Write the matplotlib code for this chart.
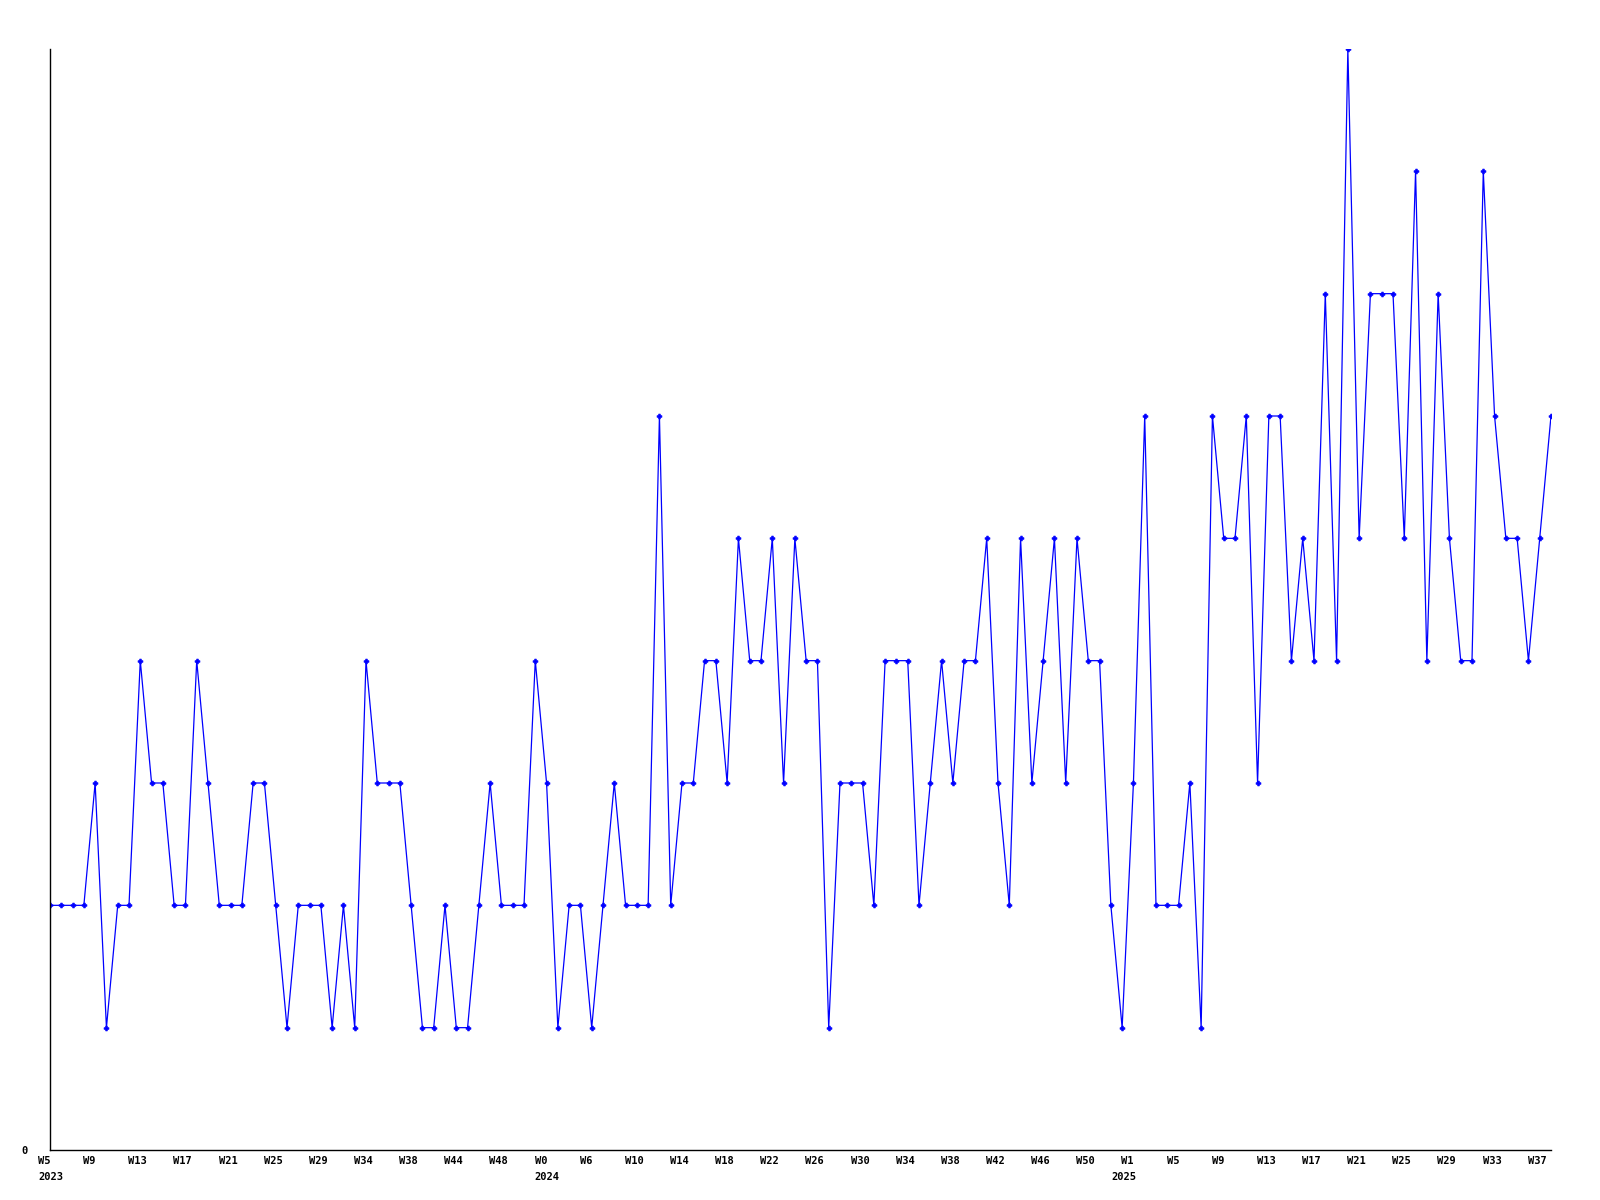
import matplotlib
matplotlib.use("Agg")
import matplotlib.pyplot as plt
import matplotlib.transforms as mtransforms

# weekly counts
values = [2, 2, 2, 2, 3, 1, 2, 2, 4, 3, 3, 2, 2, 4, 3, 2, 2, 2, 3, 3,
          2, 1, 2, 2, 2, 1, 2, 1, 4, 3, 3, 3, 2, 1, 1, 2, 1, 1, 2, 3,
          2, 2, 2, 4, 3, 1, 2, 2, 1, 2, 3, 2, 2, 2, 6, 2, 3, 3, 4, 4,
          3, 5, 4, 4, 5, 3, 5, 4, 4, 1, 3, 3, 3, 2, 4, 4, 4, 2, 3, 4,
          3, 4, 4, 5, 3, 2, 5, 3, 4, 5, 3, 5, 4, 4, 2, 1, 3, 6, 2, 2,
          2, 3, 1, 6, 5, 5, 6, 3, 6, 6, 4, 5, 4, 7, 4, 9, 5, 7, 7, 7,
          5, 8, 4, 7, 5, 4, 4, 8, 6, 5, 5, 4, 5, 6]

week_labels = ["W5", "W9", "W13", "W17", "W21", "W25", "W29", "W34", "W38",
               "W44", "W48", "W0", "W6", "W10", "W14", "W18", "W22", "W26",
               "W30", "W34", "W38", "W42", "W46", "W50", "W1", "W5", "W9",
               "W13", "W17", "W21", "W25", "W29", "W33", "W37"]
label_step = 4

years = ["2023", "2024", "2025"]
year_index = [0, 44, 96]
year_shift = [-12, -12, -22]   # pixels, the 2025 label sits a bit further left

font = {"family": "DejaVu Sans Mono", "weight": "bold", "size": 7.5}

fig = plt.figure(figsize=(16, 12), dpi=100)
ax = fig.add_axes([50 / 1600, 50 / 1200, 1501 / 1600, 1101 / 1200])

x = list(range(len(values)))
ax.plot(x, values, color="#0000ff", lw=0.9, marker="P", ms=3.5,
        mec="#0000ff", mfc="#0000ff", mew=0.5)

ax.set_xlim(0, len(values) - 1)
ax.set_ylim(0, 9)

for s in ["top", "right"]:
    ax.spines[s].set_visible(False)
for s in ["left", "bottom"]:
    ax.spines[s].set_color("black")
    ax.spines[s].set_linewidth(1)

ax.set_yticks([0])
ax.set_yticklabels(["0"], fontdict=font)
ax.tick_params(axis="y", length=0, pad=16)

ticks = list(range(0, len(values), label_step))
ax.set_xticks(ticks)
ax.set_xticklabels(week_labels[:len(ticks)], fontdict=font, ha="left")
ax.tick_params(axis="x", length=0, pad=4)
shift = mtransforms.ScaledTranslation(-12 / 100, 0, fig.dpi_scale_trans)
for lab in ax.get_xticklabels():
    lab.set_transform(lab.get_transform() + shift)

for yr, i, dx in zip(years, year_index, year_shift):
    ax.annotate(yr, xy=(i, 0), xycoords=("data", "axes fraction"),
                xytext=(dx, -22), textcoords="offset pixels",
                ha="left", va="top", **font)

fig.savefig("out.png", dpi=100, facecolor="white")
